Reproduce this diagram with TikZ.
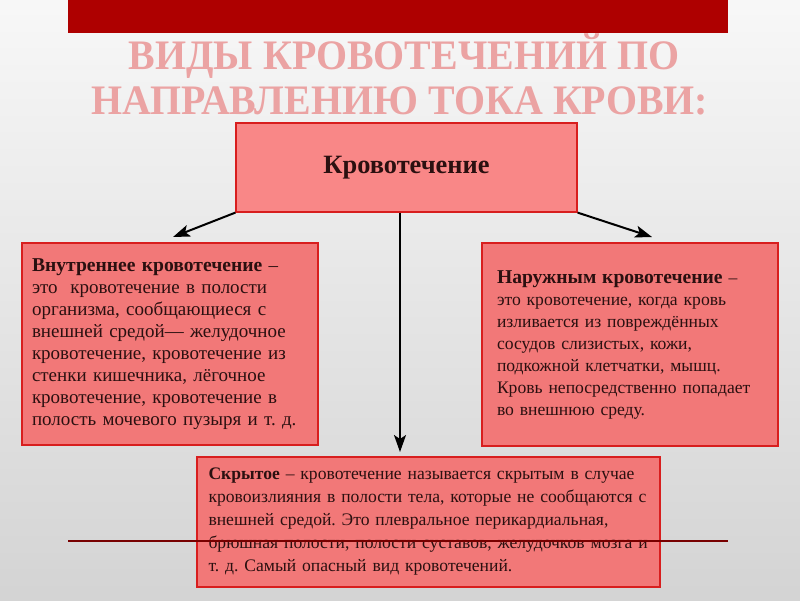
\documentclass[tikz,border=0pt]{standalone}
\usepackage{fontspec}
\setmainfont{Liberation Serif}
\newfontfamily\headfont{Liberation Serif}[FakeStretch=0.95]
\usetikzlibrary{arrows.meta}

\definecolor{barred}{HTML}{AE0000}
\definecolor{headpink}{HTML}{EBA3A3}
\definecolor{boxfill}{HTML}{F27878}
\definecolor{topfill}{HTML}{F98787}
\definecolor{boxline}{HTML}{D81E1E}
\definecolor{bodytext}{HTML}{2B1010}
\definecolor{ruleline}{HTML}{780000}

\newcommand{\leadin}[1]{{\fontsize{19.6}{22}\selectfont\textbf{#1}}}

\begin{document}
\frenchspacing
\begin{tikzpicture}[
                x=1pt, y=-1pt,
                heading/.style={text=headpink, font=\headfont\bfseries\fontsize{42}{44}\selectfont, inner sep=0pt},
                box/.style={draw=boxline, line width=1.2pt, fill=boxfill, text=bodytext,
                        align=left, font=\fontsize{17.6}{22}\selectfont},
                topbox/.style={box, fill=topfill, align=center,
                        font=\bfseries\fontsize{26.4}{28}\selectfont},
                link/.style={line width=2pt, -{Stealth[length=17pt,width=12pt,inset=4pt]}}
            ]

            % background and heading
            \useasboundingbox (0,0) rectangle (800,600);
            \shade[top color=white!97!black, middle color=white!93!black, bottom color=white!83!black] (0,0) rectangle (800,600);
            \fill[barred] (68,0) rectangle (728,33);
            \node[heading] (headA) at (404,56) {ВИДЫ КРОВОТЕЧЕНИЙ ПО};
            \node[heading] (headB) at (400,101) {НАПРАВЛЕНИЮ ТОКА КРОВИ:};

            % boxes
            \node[topbox, minimum width=341pt, minimum height=89pt] (root) at (406.5,167.5) {Кровотечение};

            \node[box, minimum width=296pt, minimum height=202pt, text width=276pt, inner xsep=10pt,
                    font=\fontsize{19}{22}\selectfont] (inner) at (170,344)
                {\leadin{Внутреннее кровотечение} –\\
                 это \ кровотечение в полости\\
                 организма, сообщающиеся с\\
                 внешней средой— желудочное\\
                 кровотечение, кровотечение из\\
                 стенки кишечника, лёгочное\\
                 кровотечение, кровотечение в\\
                 полость мочевого пузыря и т. д.};

            \node[box, minimum width=296pt, minimum height=203pt, text width=266pt, inner xsep=15pt] (outer) at (630,344.5)
                {\leadin{Наружным кровотечение} –\\
                 это кровотечение, когда кровь\\
                 изливается из повреждённых\\
                 сосудов слизистых, кожи,\\
                 подкожной клетчатки, мышц.\\
                 Кровь непосредственно попадает\\
                 во внешнюю среду.};

            \node[box, minimum width=463pt, minimum height=130pt, text width=440pt, inner xsep=11.5pt,
                    font=\fontsize{17.6}{23}\selectfont] (hidden) at (428.5,522)
                {\textbf{Скрытое} – кровотечение называется скрытым в случае\\
                 кровоизлияния в полости тела, которые не сообщаются с\\
                 внешней средой. Это плевральное перикардиальная,\\
                 брюшная полости, полости суставов, желудочков мозга и\\
                 т. д. Самый опасный вид кровотечений.};

            % connectors
            \coordinate (tipL) at (173,237);
            \coordinate (tipR) at (652,237);
            \coordinate (tipM) at (400,452);
            \draw[link] (root.south west) -- (tipL);
            \draw[link] (root.south east) -- (tipR);
            \draw[link] (root.south -| tipM) -- (tipM);

            % rule across the bottom box
            \coordinate (ruleL) at (68,541);
            \coordinate (ruleR) at (728,541);
            \draw[ruleline, line width=1.5pt] (ruleL) -- (ruleR);

        \end{tikzpicture}
\end{document}
